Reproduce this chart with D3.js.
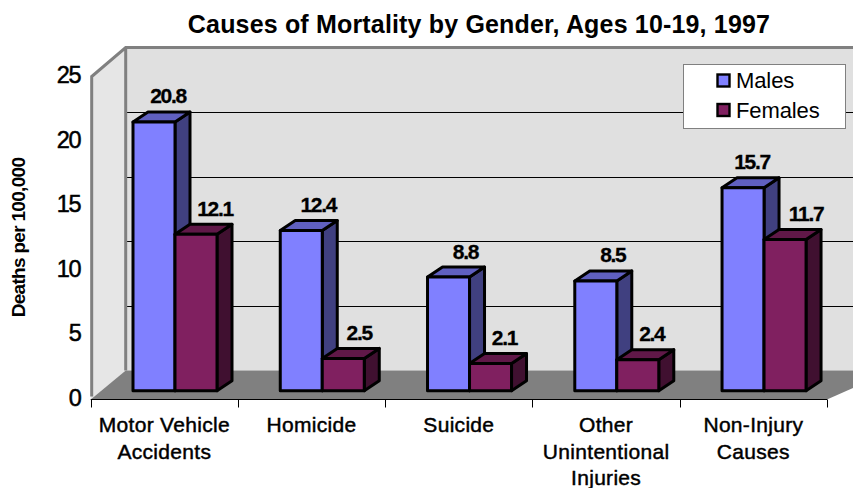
<!DOCTYPE html>
<html><head><meta charset="utf-8">
<script src="https://cdn.jsdelivr.net/npm/d3@7"></script>
<style>html,body{margin:0;padding:0;background:#fff}svg{display:block}text{font-family:"Liberation Sans",Arial,sans-serif;fill:#000}</style>
</head><body><svg id="c" width="853" height="488"></svg>
<script>
const categories=[["Motor Vehicle","Accidents"],["Homicide"],["Suicide"],["Other","Unintentional","Injuries"],["Non-Injury","Causes"]];
const seriesNames=["Males","Females"];
const males=[20.8,12.4,8.8,8.5,15.7];
const females=[12.1,2.5,2.1,2.4,11.7];
const yTicks=[0,5,10,15,20,25];
const title="Causes of Mortality by Gender, Ages 10-19, 1997";
const yTitle="Deaths per 100,000";
const front=["#8080FF","#802060"],top_=["#6060C0","#601848"],side=["#404080","#401030"];
const labelNudge=[[35,38,38,38,30],[40,37,35,35,42]];

const svg=d3.select("#c");
const dx=35,dy=-29;          // wall depth
const bdx=15,bdy=-10;        // bar depth
const x=d3.scaleBand().domain(d3.range(categories.length)).range([90.7,827]);
const y=d3.scaleLinear().domain([0,25]).range([399.5,76.5]);
const poly=(pts,f,s,w)=>svg.append("polygon").attr("points",pts.map(p=>p.join(",")).join(" ")).attr("fill",f).attr("stroke",s||"none").attr("stroke-width",w||0).attr("stroke-linejoin","round");
const x0=x.range()[0],x1=x.range()[1],W=853+40;

// walls
poly([[x0+dx,y(25)+dy],[W,y(25)+dy],[W,y(0)+dy],[x0+dx,y(0)+dy]],"#E0E0E0");
poly([[x0,y(25)],[x0+dx,y(25)+dy],[x0+dx,y(0)+dy],[x0,y(0)]],"#E6E6E6");
poly([[x0,y(0)],[x0+dx,y(0)+dy],[W,y(0)+dy],[x1,y(0)]],"#808080");
// grid
svg.append("g").selectAll("line").data(yTicks.filter(t=>t>0&&t<25)).join("line")
  .attr("x1",x0+dx).attr("x2",853).attr("y1",d=>Math.round(y(d)+dy)+.5).attr("y2",d=>Math.round(y(d)+dy)+.5).attr("stroke","#000").attr("stroke-width",1);
// wall borders
svg.append("path").attr("fill","none").attr("stroke","#808080").attr("stroke-width",3)
  .attr("d",`M${x0+1},${y(0)-3}V${y(25)}L${x0+dx},${y(25)+dy}H853M${x0+dx},${y(25)+dy}V${y(0)+dy}`);

// bars
const bw=42,inset=42.3,base=y(0)-8.8;
const h=d3.scaleLinear().domain([0,25]).range([0,y(0)-y(25)]);
const lw=3;
categories.forEach((c,i)=>{
  [males,females].forEach((s,k)=>{
    const l=x(i)+inset+k*bw,r=l+bw,b=base,t=base-h(s[i]);
    poly([[r,t],[r+bdx,t+bdy],[r+bdx,b+bdy],[r,b]],side[k],"#000",lw);
    poly([[l,t],[l+bdx,t+bdy],[r+bdx,t+bdy],[r,t]],top_[k],"#000",lw);
    poly([[l,t],[r,t],[r,b],[l,b]],front[k],"#000",lw);
    svg.append("text").attr("x",l+labelNudge[k][i]).attr("y",t-18.5)
      .attr("text-anchor","middle").attr("font-size",21).attr("font-weight","bold").attr("stroke","#000").attr("stroke-width",.3).attr("letter-spacing",-1.3).text(s[i]);
  });
});

// x axis
svg.append("path").attr("fill","none").attr("stroke","#000").attr("stroke-width",1)
  .attr("d",`M${x0},${y(0)}H${x1}`);
svg.append("g").selectAll("line").data(d3.range(categories.length+1)).join("line")
  .attr("x1",i=>Math.round(x0+i*x.step())+.5).attr("x2",i=>Math.round(x0+i*x.step())+.5).attr("y1",y(0)).attr("y2",y(0)+8).attr("stroke","#000");
categories.forEach((c,i)=>{
  c.forEach((ln,j)=>svg.append("text").attr("x",x(i)+x.bandwidth()/2).attr("y",432+j*26.5)
    .attr("text-anchor","middle").attr("font-size",21).attr("stroke","#000").attr("stroke-width",.45).attr("letter-spacing",.3).text(ln));
});
// y labels
svg.append("g").selectAll("text").data(yTicks).join("text")
  .attr("x",80.5).attr("y",d=>y(d)+6.5).attr("text-anchor","end").attr("font-size",23.5).attr("stroke","#000").attr("stroke-width",.5).attr("letter-spacing",-1.2).text(d=>d);
svg.append("text").attr("transform","translate(25,237.5) rotate(-90)").attr("text-anchor","middle")
  .attr("font-size",19).attr("font-weight","bold").attr("letter-spacing",-.7).text(yTitle);
svg.append("text").attr("x",479).attr("y",33).attr("text-anchor","middle").attr("font-size",25).attr("font-weight","bold").attr("letter-spacing",.17).text(title);

// legend
svg.append("rect").attr("x",683.5).attr("y",64.5).attr("width",162).attr("height",64).attr("fill","#fff").attr("stroke","#808080").attr("stroke-width",1);
seriesNames.forEach((n,k)=>{
  const cy=80.5+k*29.5;
  svg.append("rect").attr("x",717.5).attr("y",cy-6).attr("width",12).attr("height",12).attr("fill",front[k]).attr("stroke","#000").attr("stroke-width",2.4);
  svg.append("text").attr("x",736).attr("y",cy+7.5).attr("font-size",22).attr("letter-spacing",-.1).text(n);
});
</script></body></html>
